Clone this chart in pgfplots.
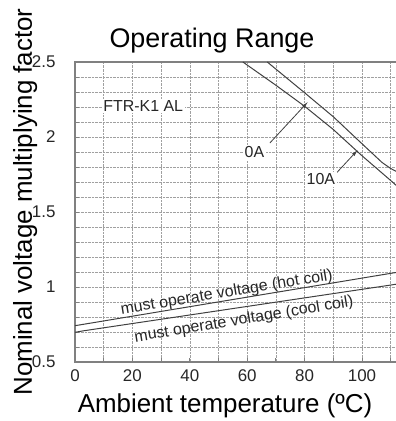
\documentclass[border=0pt]{standalone}
\usepackage{fontspec}
\setmainfont{Liberation Sans}
\usepackage{pgfplots}
\pgfplotsset{compat=1.18}
\usetikzlibrary{arrows.meta}
\definecolor{frame}{HTML}{808080}
\definecolor{curve}{HTML}{404040}
\definecolor{gridc}{HTML}{A0A0A0}
\begin{document}
\begin{tikzpicture}
\begin{axis}[
  scale only axis, width=324.3bp, height=300bp,
  at={(0,0)}, anchor=south west,
  xmin=0, xmax=113, ymin=0.5, ymax=2.5,
  xtick={0,20,40,60,80,100},
  minor xtick={10,30,50,70,90,110},
  ytick={0.5,1,1.5,2,2.5},
  minor ytick={0.6,0.7,0.8,0.9,1.1,1.2,1.3,1.4,1.6,1.7,1.8,1.9,2.1,2.2,2.3,2.4},
  grid=both,
  major grid style={gridc, densely dotted, line width=0.5pt},
  minor grid style={gridc, densely dotted, line width=0.5pt},
  tick pos=left, tick align=inside,
  major tick length=4bp, minor tick length=4bp,
  axis line style={frame, line width=1.2pt},
  every tick/.style={frame, line width=0.8pt},
  ticklabel style={font=\fontsize{17}{17}\selectfont, text=black!85},
  /pgf/number format/assume math mode=true,
  yticklabel style={xshift=-16bp},
  xticklabel style={yshift=-4bp},
]
% lower curve
\addplot[curve, line width=1pt] coordinates {
  (58.5,2.5) (70,2.345) (80,2.205) (90,2.05) (100,1.875) (110,1.71) (112,1.676)};
% upper curve
\addplot[curve, line width=1pt] coordinates {
  (67,2.5) (80,2.295) (90,2.135) (100,1.955) (107,1.83) (110,1.79) (112,1.77)};
% hot coil
\addplot[curve, line width=1pt] coordinates {(0,0.742) (110,1.091) (112,1.097)};
% cool coil
\addplot[curve, line width=1pt] coordinates {(0,0.698) (3,0.708) (110,1.013) (112,1.019)};
\draw[curve, line width=0.8pt, -{Latex[length=7bp,width=3.5bp]}] (axis cs:67.9,1.96) -- (axis cs:81.2,2.235);
\draw[curve, line width=0.8pt, -{Latex[length=7bp,width=3.5bp]}] (axis cs:89.5,1.727) -- (axis cs:98.6,1.915);
\end{axis}
\node[anchor=base, font=\fontsize{27}{27}\selectfont] at (137bp,314bp) {Operating Range};
\node[rotate=90, anchor=base, font=\fontsize{26}{26}\selectfont] at (-43bp,160bp) {Nominal voltage multiplying factor};
\node[anchor=base, font=\fontsize{26}{26}\selectfont] at (150bp,-50bp) {Ambient temperature (ºC)};
\node[anchor=base west, fill=white, inner sep=1.5bp, font=\fontsize{16}{16}\selectfont, text=black!85] at (26.7bp,250.3bp) {FTR-K1 AL};
\node[anchor=base west, fill=white, inner sep=1.5bp, font=\fontsize{16}{16}\selectfont, text=black!85] at (168bp,204bp) {0A};
\node[anchor=base west, fill=white, inner sep=1.5bp, font=\fontsize{16}{16}\selectfont, text=black!85] at (230bp,177bp) {10A};
\node[rotate=9.4, font=\fontsize{16}{16}\selectfont, text=black!85] at (151.7bp,69bp) {must operate voltage (hot coil)};
\node[rotate=9.4, font=\fontsize{16}{16}\selectfont, text=black!85] at (169bp,42bp) {must operate voltage (cool coil)};
\pgfresetboundingbox
\path[use as bounding box] (-75bp,-59bp) rectangle (321bp,362bp);
\end{tikzpicture}
\end{document}
